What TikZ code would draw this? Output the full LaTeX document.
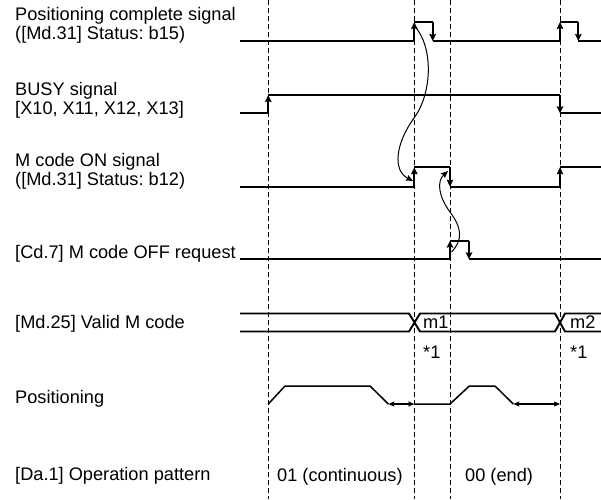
\documentclass[tikz,border=0pt]{standalone}
\usepackage{fontspec}
\setmainfont{Liberation Sans}
\usetikzlibrary{arrows.meta}
\frenchspacing
\begin{document}
\begin{tikzpicture}[x=1pt,y=-1pt,
  lbl/.style={anchor=base west,inner sep=0pt,font=\fontsize{18.2}{19}\selectfont},
  sig/.style={line width=1.9pt,line join=miter},
  edge/.style={line width=1.9pt,-{Stealth[length=7pt,width=6.5pt,inset=1pt]}},
  guide/.style={line width=0.8pt,dash pattern=on 5pt off 3pt},
  cause/.style={line width=1pt,-{Stealth[length=7pt,width=6pt,inset=1pt]}},
  span/.style={line width=1.2pt,{Stealth[length=6pt,width=5pt,inset=1pt]}-{Stealth[length=6pt,width=5pt,inset=1pt]}},
  prof/.style={line width=1.5pt,line join=miter}]
\useasboundingbox (0,0) rectangle (601,499);
% guide lines
\foreach \x in {268.3,414.3,450,560}
  \draw[guide] (\x,0) -- (\x,499);
% labels
\node[lbl] (t1a) at (15,20.7) {Positioning complete signal};
\node[lbl] (t1b) at (15,39.5) {([Md.31] Status: b15)};
\node[lbl] (t2a) at (15,95.3) {BUSY signal};
\node[lbl] (t2b) at (15,114) {[X10, X11, X12, X13]};
\node[lbl] (t3a) at (15,166.7) {M code ON signal};
\node[lbl] (t3b) at (15,185.5) {([Md.31] Status: b12)};
\node[lbl] (t4) at (15,258.4) {[Cd.7] M code OFF request};
\node[lbl] (t5) at (15,328.4) {[Md.25] Valid M code};
\node[lbl] (t6) at (15,403.4) {Positioning};
\node[lbl] (t7) at (15,480) {[Da.1] Operation pattern};
% Positioning complete signal
\draw[sig] (240,41) -- (414.3,41);
\draw[edge] (414.3,41) -- (414.3,22);
\draw[sig] (414.3,22) -- (432.7,22);
\draw[edge] (432.7,22) -- (432.7,41);
\draw[sig] (432.7,41) -- (560,41);
\draw[edge] (560,41) -- (560,22);
\draw[sig] (560,22) -- (578.3,22);
\draw[edge] (578.3,22) -- (578.3,41);
\draw[sig] (578.3,41) -- (601,41);
% BUSY
\draw[sig] (240,113.3) -- (268.3,113.3);
\draw[edge] (268.3,113.3) -- (268.3,95);
\draw[sig] (268.3,95) -- (560,95);
\draw[edge] (560,95) -- (560,113.3);
\draw[sig] (560,113.3) -- (601,113.3);
% M code ON
\draw[sig] (240,186.7) -- (414.3,186.7);
\draw[edge] (414.3,186.7) -- (414.3,167.3);
\draw[sig] (414.3,167.3) -- (450,167.3);
\draw[edge] (450,167.3) -- (450,186.7);
\draw[sig] (450,186.7) -- (560,186.7);
\draw[edge] (560,186.7) -- (560,167.3);
\draw[sig] (560,167.3) -- (601,167.3);
% Cd.7
\draw[sig] (240,259.3) -- (450,259.3);
\draw[edge] (450,259.3) -- (450,240.7);
\draw[sig] (450,240.7) -- (469,240.7);
\draw[edge] (469,240.7) -- (469,259.3);
\draw[sig] (469,259.3) -- (601,259.3);
% cause curves
\draw[cause] (414.5,26) .. controls (433,46) and (433,92) .. (414,118)
  .. controls (396,143) and (392,170) .. (413,181);
\draw[cause] (451.5,252) .. controls (463,240) and (462,228) .. (450,212)
  .. controls (438,196) and (437,181) .. (448,171);
% Valid M code bus
\draw[sig] (240,313.5) -- (409,313.5) -- (420,331.5) -- (555,331.5) -- (565,313.5) -- (601,313.5);
\draw[sig] (240,331.5) -- (409,331.5) -- (420,313.5) -- (555,313.5) -- (565,331.5) -- (601,331.5);
\node[lbl] (m1) at (423,328) {m1};
\node[lbl] (m2) at (570,328) {m2};
\node[lbl] (s1) at (423,358.3) {*1};
\node[lbl] (s2) at (570,358.3) {*1};
% Positioning profile
\draw[prof] (268.3,404) -- (285,386) -- (370,386) -- (388.3,404);
\draw[span] (388.3,404) -- (414.3,404);
\draw[prof] (414.3,404) -- (450,404) -- (469.3,386) -- (495,386) -- (513.3,404);
\draw[span] (513.3,404) -- (560,404);
% Operation pattern
\node[lbl] (p1) at (277,481) {01 (continuous)};
\node[lbl] (p2) at (465,481) {00 (end)};
\end{tikzpicture}
\end{document}
